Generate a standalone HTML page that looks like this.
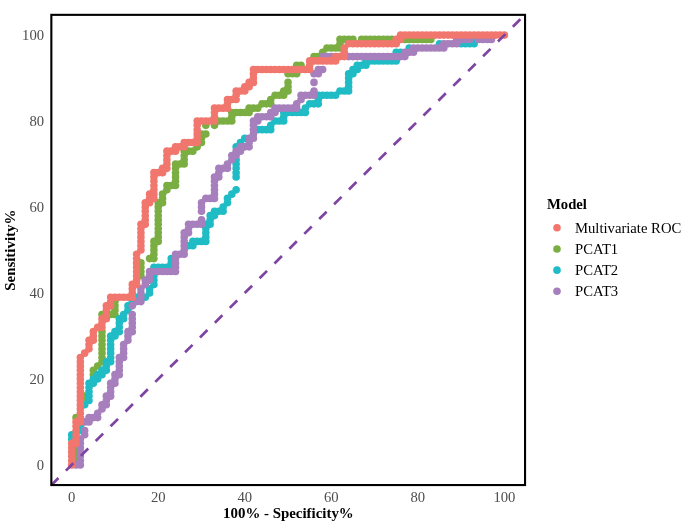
<!DOCTYPE html>
<html><head><meta charset="utf-8"><title>ROC</title>
<style>html,body{margin:0;padding:0;background:#fff}body{width:685px;height:528px;overflow:hidden;font-family:"Liberation Serif",serif}</style></head>
<body>
<svg width="685" height="528" viewBox="0 0 685 528" style="display:block;will-change:transform;opacity:0.999">
<rect width="685" height="528" fill="#fff"/>
<defs><clipPath id="pc"><rect x="50.3" y="13.9" width="475.9" height="472.3"/></clipPath></defs>
<g clip-path="url(#pc)">
<path fill="#7BAE42" d="M72.23 460.60a3.8 3.8 0 1 0 7.6 0a3.8 3.8 0 1 0 -7.6 0M72.23 456.30a3.8 3.8 0 1 0 7.6 0a3.8 3.8 0 1 0 -7.6 0M72.23 452.01a3.8 3.8 0 1 0 7.6 0a3.8 3.8 0 1 0 -7.6 0M72.23 447.71a3.8 3.8 0 1 0 7.6 0a3.8 3.8 0 1 0 -7.6 0M72.23 417.62a3.8 3.8 0 1 0 7.6 0a3.8 3.8 0 1 0 -7.6 0M80.88 400.43a3.8 3.8 0 1 0 7.6 0a3.8 3.8 0 1 0 -7.6 0M80.88 396.13a3.8 3.8 0 1 0 7.6 0a3.8 3.8 0 1 0 -7.6 0M89.54 374.64a3.8 3.8 0 1 0 7.6 0a3.8 3.8 0 1 0 -7.6 0M89.54 370.34a3.8 3.8 0 1 0 7.6 0a3.8 3.8 0 1 0 -7.6 0M93.86 366.05a3.8 3.8 0 1 0 7.6 0a3.8 3.8 0 1 0 -7.6 0M98.19 361.75a3.8 3.8 0 1 0 7.6 0a3.8 3.8 0 1 0 -7.6 0M98.19 357.45a3.8 3.8 0 1 0 7.6 0a3.8 3.8 0 1 0 -7.6 0M98.19 353.15a3.8 3.8 0 1 0 7.6 0a3.8 3.8 0 1 0 -7.6 0M98.19 348.85a3.8 3.8 0 1 0 7.6 0a3.8 3.8 0 1 0 -7.6 0M98.19 344.56a3.8 3.8 0 1 0 7.6 0a3.8 3.8 0 1 0 -7.6 0M98.19 340.26a3.8 3.8 0 1 0 7.6 0a3.8 3.8 0 1 0 -7.6 0M98.19 335.96a3.8 3.8 0 1 0 7.6 0a3.8 3.8 0 1 0 -7.6 0M98.19 331.66a3.8 3.8 0 1 0 7.6 0a3.8 3.8 0 1 0 -7.6 0M98.19 314.47a3.8 3.8 0 1 0 7.6 0a3.8 3.8 0 1 0 -7.6 0M106.84 314.47a3.8 3.8 0 1 0 7.6 0a3.8 3.8 0 1 0 -7.6 0M111.17 314.47a3.8 3.8 0 1 0 7.6 0a3.8 3.8 0 1 0 -7.6 0M111.17 310.17a3.8 3.8 0 1 0 7.6 0a3.8 3.8 0 1 0 -7.6 0M111.17 305.87a3.8 3.8 0 1 0 7.6 0a3.8 3.8 0 1 0 -7.6 0M111.17 301.58a3.8 3.8 0 1 0 7.6 0a3.8 3.8 0 1 0 -7.6 0M137.13 275.79a3.8 3.8 0 1 0 7.6 0a3.8 3.8 0 1 0 -7.6 0M137.13 271.49a3.8 3.8 0 1 0 7.6 0a3.8 3.8 0 1 0 -7.6 0M137.13 267.19a3.8 3.8 0 1 0 7.6 0a3.8 3.8 0 1 0 -7.6 0M137.13 262.89a3.8 3.8 0 1 0 7.6 0a3.8 3.8 0 1 0 -7.6 0M145.79 258.60a3.8 3.8 0 1 0 7.6 0a3.8 3.8 0 1 0 -7.6 0M150.11 258.60a3.8 3.8 0 1 0 7.6 0a3.8 3.8 0 1 0 -7.6 0M150.11 254.30a3.8 3.8 0 1 0 7.6 0a3.8 3.8 0 1 0 -7.6 0M150.11 250.00a3.8 3.8 0 1 0 7.6 0a3.8 3.8 0 1 0 -7.6 0M150.11 245.70a3.8 3.8 0 1 0 7.6 0a3.8 3.8 0 1 0 -7.6 0M150.11 241.40a3.8 3.8 0 1 0 7.6 0a3.8 3.8 0 1 0 -7.6 0M154.44 241.40a3.8 3.8 0 1 0 7.6 0a3.8 3.8 0 1 0 -7.6 0M154.44 237.11a3.8 3.8 0 1 0 7.6 0a3.8 3.8 0 1 0 -7.6 0M154.44 232.81a3.8 3.8 0 1 0 7.6 0a3.8 3.8 0 1 0 -7.6 0M154.44 228.51a3.8 3.8 0 1 0 7.6 0a3.8 3.8 0 1 0 -7.6 0M154.44 224.21a3.8 3.8 0 1 0 7.6 0a3.8 3.8 0 1 0 -7.6 0M154.44 219.91a3.8 3.8 0 1 0 7.6 0a3.8 3.8 0 1 0 -7.6 0M154.44 215.62a3.8 3.8 0 1 0 7.6 0a3.8 3.8 0 1 0 -7.6 0M154.44 211.32a3.8 3.8 0 1 0 7.6 0a3.8 3.8 0 1 0 -7.6 0M154.44 207.02a3.8 3.8 0 1 0 7.6 0a3.8 3.8 0 1 0 -7.6 0M154.44 202.72a3.8 3.8 0 1 0 7.6 0a3.8 3.8 0 1 0 -7.6 0M158.77 202.72a3.8 3.8 0 1 0 7.6 0a3.8 3.8 0 1 0 -7.6 0M158.77 198.42a3.8 3.8 0 1 0 7.6 0a3.8 3.8 0 1 0 -7.6 0M158.77 194.13a3.8 3.8 0 1 0 7.6 0a3.8 3.8 0 1 0 -7.6 0M163.09 189.83a3.8 3.8 0 1 0 7.6 0a3.8 3.8 0 1 0 -7.6 0M163.09 185.53a3.8 3.8 0 1 0 7.6 0a3.8 3.8 0 1 0 -7.6 0M167.42 185.53a3.8 3.8 0 1 0 7.6 0a3.8 3.8 0 1 0 -7.6 0M171.75 185.53a3.8 3.8 0 1 0 7.6 0a3.8 3.8 0 1 0 -7.6 0M171.75 181.23a3.8 3.8 0 1 0 7.6 0a3.8 3.8 0 1 0 -7.6 0M171.75 176.93a3.8 3.8 0 1 0 7.6 0a3.8 3.8 0 1 0 -7.6 0M171.75 172.64a3.8 3.8 0 1 0 7.6 0a3.8 3.8 0 1 0 -7.6 0M171.75 168.34a3.8 3.8 0 1 0 7.6 0a3.8 3.8 0 1 0 -7.6 0M171.75 164.04a3.8 3.8 0 1 0 7.6 0a3.8 3.8 0 1 0 -7.6 0M176.07 164.04a3.8 3.8 0 1 0 7.6 0a3.8 3.8 0 1 0 -7.6 0M180.40 164.04a3.8 3.8 0 1 0 7.6 0a3.8 3.8 0 1 0 -7.6 0M180.40 159.74a3.8 3.8 0 1 0 7.6 0a3.8 3.8 0 1 0 -7.6 0M180.40 155.44a3.8 3.8 0 1 0 7.6 0a3.8 3.8 0 1 0 -7.6 0M180.40 151.15a3.8 3.8 0 1 0 7.6 0a3.8 3.8 0 1 0 -7.6 0M184.73 151.15a3.8 3.8 0 1 0 7.6 0a3.8 3.8 0 1 0 -7.6 0M189.06 151.15a3.8 3.8 0 1 0 7.6 0a3.8 3.8 0 1 0 -7.6 0M193.38 146.85a3.8 3.8 0 1 0 7.6 0a3.8 3.8 0 1 0 -7.6 0M197.71 142.55a3.8 3.8 0 1 0 7.6 0a3.8 3.8 0 1 0 -7.6 0M197.71 138.25a3.8 3.8 0 1 0 7.6 0a3.8 3.8 0 1 0 -7.6 0M197.71 133.95a3.8 3.8 0 1 0 7.6 0a3.8 3.8 0 1 0 -7.6 0M202.04 133.95a3.8 3.8 0 1 0 7.6 0a3.8 3.8 0 1 0 -7.6 0M202.04 125.36a3.8 3.8 0 1 0 7.6 0a3.8 3.8 0 1 0 -7.6 0M210.69 125.36a3.8 3.8 0 1 0 7.6 0a3.8 3.8 0 1 0 -7.6 0M215.02 121.06a3.8 3.8 0 1 0 7.6 0a3.8 3.8 0 1 0 -7.6 0M219.34 121.06a3.8 3.8 0 1 0 7.6 0a3.8 3.8 0 1 0 -7.6 0M223.67 121.06a3.8 3.8 0 1 0 7.6 0a3.8 3.8 0 1 0 -7.6 0M228.00 121.06a3.8 3.8 0 1 0 7.6 0a3.8 3.8 0 1 0 -7.6 0M228.00 116.76a3.8 3.8 0 1 0 7.6 0a3.8 3.8 0 1 0 -7.6 0M228.00 112.46a3.8 3.8 0 1 0 7.6 0a3.8 3.8 0 1 0 -7.6 0M232.33 112.46a3.8 3.8 0 1 0 7.6 0a3.8 3.8 0 1 0 -7.6 0M236.65 112.46a3.8 3.8 0 1 0 7.6 0a3.8 3.8 0 1 0 -7.6 0M240.98 112.46a3.8 3.8 0 1 0 7.6 0a3.8 3.8 0 1 0 -7.6 0M245.31 112.46a3.8 3.8 0 1 0 7.6 0a3.8 3.8 0 1 0 -7.6 0M245.31 108.17a3.8 3.8 0 1 0 7.6 0a3.8 3.8 0 1 0 -7.6 0M249.63 108.17a3.8 3.8 0 1 0 7.6 0a3.8 3.8 0 1 0 -7.6 0M253.96 108.17a3.8 3.8 0 1 0 7.6 0a3.8 3.8 0 1 0 -7.6 0M258.29 103.87a3.8 3.8 0 1 0 7.6 0a3.8 3.8 0 1 0 -7.6 0M262.62 103.87a3.8 3.8 0 1 0 7.6 0a3.8 3.8 0 1 0 -7.6 0M266.94 103.87a3.8 3.8 0 1 0 7.6 0a3.8 3.8 0 1 0 -7.6 0M266.94 99.57a3.8 3.8 0 1 0 7.6 0a3.8 3.8 0 1 0 -7.6 0M271.27 95.27a3.8 3.8 0 1 0 7.6 0a3.8 3.8 0 1 0 -7.6 0M275.60 95.27a3.8 3.8 0 1 0 7.6 0a3.8 3.8 0 1 0 -7.6 0M279.92 95.27a3.8 3.8 0 1 0 7.6 0a3.8 3.8 0 1 0 -7.6 0M279.92 90.97a3.8 3.8 0 1 0 7.6 0a3.8 3.8 0 1 0 -7.6 0M284.25 90.97a3.8 3.8 0 1 0 7.6 0a3.8 3.8 0 1 0 -7.6 0M284.25 86.68a3.8 3.8 0 1 0 7.6 0a3.8 3.8 0 1 0 -7.6 0M284.25 82.38a3.8 3.8 0 1 0 7.6 0a3.8 3.8 0 1 0 -7.6 0M284.25 73.78a3.8 3.8 0 1 0 7.6 0a3.8 3.8 0 1 0 -7.6 0M288.58 73.78a3.8 3.8 0 1 0 7.6 0a3.8 3.8 0 1 0 -7.6 0M292.90 73.78a3.8 3.8 0 1 0 7.6 0a3.8 3.8 0 1 0 -7.6 0M292.90 65.19a3.8 3.8 0 1 0 7.6 0a3.8 3.8 0 1 0 -7.6 0M297.23 65.19a3.8 3.8 0 1 0 7.6 0a3.8 3.8 0 1 0 -7.6 0M310.21 56.59a3.8 3.8 0 1 0 7.6 0a3.8 3.8 0 1 0 -7.6 0M314.54 56.59a3.8 3.8 0 1 0 7.6 0a3.8 3.8 0 1 0 -7.6 0M318.87 52.29a3.8 3.8 0 1 0 7.6 0a3.8 3.8 0 1 0 -7.6 0M323.19 47.99a3.8 3.8 0 1 0 7.6 0a3.8 3.8 0 1 0 -7.6 0M327.52 47.99a3.8 3.8 0 1 0 7.6 0a3.8 3.8 0 1 0 -7.6 0M331.85 47.99a3.8 3.8 0 1 0 7.6 0a3.8 3.8 0 1 0 -7.6 0M336.17 47.99a3.8 3.8 0 1 0 7.6 0a3.8 3.8 0 1 0 -7.6 0M336.17 43.70a3.8 3.8 0 1 0 7.6 0a3.8 3.8 0 1 0 -7.6 0M336.17 39.40a3.8 3.8 0 1 0 7.6 0a3.8 3.8 0 1 0 -7.6 0M340.50 39.40a3.8 3.8 0 1 0 7.6 0a3.8 3.8 0 1 0 -7.6 0M344.83 39.40a3.8 3.8 0 1 0 7.6 0a3.8 3.8 0 1 0 -7.6 0M349.15 39.40a3.8 3.8 0 1 0 7.6 0a3.8 3.8 0 1 0 -7.6 0M357.81 39.40a3.8 3.8 0 1 0 7.6 0a3.8 3.8 0 1 0 -7.6 0M362.14 39.40a3.8 3.8 0 1 0 7.6 0a3.8 3.8 0 1 0 -7.6 0M366.46 39.40a3.8 3.8 0 1 0 7.6 0a3.8 3.8 0 1 0 -7.6 0M370.79 39.40a3.8 3.8 0 1 0 7.6 0a3.8 3.8 0 1 0 -7.6 0M375.12 39.40a3.8 3.8 0 1 0 7.6 0a3.8 3.8 0 1 0 -7.6 0M379.44 39.40a3.8 3.8 0 1 0 7.6 0a3.8 3.8 0 1 0 -7.6 0M383.77 39.40a3.8 3.8 0 1 0 7.6 0a3.8 3.8 0 1 0 -7.6 0M388.10 39.40a3.8 3.8 0 1 0 7.6 0a3.8 3.8 0 1 0 -7.6 0M401.08 39.40a3.8 3.8 0 1 0 7.6 0a3.8 3.8 0 1 0 -7.6 0M405.41 39.40a3.8 3.8 0 1 0 7.6 0a3.8 3.8 0 1 0 -7.6 0M409.73 39.40a3.8 3.8 0 1 0 7.6 0a3.8 3.8 0 1 0 -7.6 0M414.06 39.40a3.8 3.8 0 1 0 7.6 0a3.8 3.8 0 1 0 -7.6 0M418.39 39.40a3.8 3.8 0 1 0 7.6 0a3.8 3.8 0 1 0 -7.6 0M422.71 39.40a3.8 3.8 0 1 0 7.6 0a3.8 3.8 0 1 0 -7.6 0M427.04 39.40a3.8 3.8 0 1 0 7.6 0a3.8 3.8 0 1 0 -7.6 0"/>
<path fill="#1FBCC5" d="M67.90 439.11a3.8 3.8 0 1 0 7.6 0a3.8 3.8 0 1 0 -7.6 0M67.90 434.81a3.8 3.8 0 1 0 7.6 0a3.8 3.8 0 1 0 -7.6 0M76.55 430.52a3.8 3.8 0 1 0 7.6 0a3.8 3.8 0 1 0 -7.6 0M76.55 426.22a3.8 3.8 0 1 0 7.6 0a3.8 3.8 0 1 0 -7.6 0M80.88 404.73a3.8 3.8 0 1 0 7.6 0a3.8 3.8 0 1 0 -7.6 0M85.21 400.43a3.8 3.8 0 1 0 7.6 0a3.8 3.8 0 1 0 -7.6 0M85.21 396.13a3.8 3.8 0 1 0 7.6 0a3.8 3.8 0 1 0 -7.6 0M85.21 391.83a3.8 3.8 0 1 0 7.6 0a3.8 3.8 0 1 0 -7.6 0M85.21 387.54a3.8 3.8 0 1 0 7.6 0a3.8 3.8 0 1 0 -7.6 0M85.21 383.24a3.8 3.8 0 1 0 7.6 0a3.8 3.8 0 1 0 -7.6 0M89.54 383.24a3.8 3.8 0 1 0 7.6 0a3.8 3.8 0 1 0 -7.6 0M89.54 378.94a3.8 3.8 0 1 0 7.6 0a3.8 3.8 0 1 0 -7.6 0M93.86 378.94a3.8 3.8 0 1 0 7.6 0a3.8 3.8 0 1 0 -7.6 0M93.86 374.64a3.8 3.8 0 1 0 7.6 0a3.8 3.8 0 1 0 -7.6 0M98.19 374.64a3.8 3.8 0 1 0 7.6 0a3.8 3.8 0 1 0 -7.6 0M98.19 370.34a3.8 3.8 0 1 0 7.6 0a3.8 3.8 0 1 0 -7.6 0M102.52 370.34a3.8 3.8 0 1 0 7.6 0a3.8 3.8 0 1 0 -7.6 0M102.52 366.05a3.8 3.8 0 1 0 7.6 0a3.8 3.8 0 1 0 -7.6 0M102.52 361.75a3.8 3.8 0 1 0 7.6 0a3.8 3.8 0 1 0 -7.6 0M106.84 361.75a3.8 3.8 0 1 0 7.6 0a3.8 3.8 0 1 0 -7.6 0M106.84 357.45a3.8 3.8 0 1 0 7.6 0a3.8 3.8 0 1 0 -7.6 0M106.84 353.15a3.8 3.8 0 1 0 7.6 0a3.8 3.8 0 1 0 -7.6 0M106.84 348.85a3.8 3.8 0 1 0 7.6 0a3.8 3.8 0 1 0 -7.6 0M106.84 344.56a3.8 3.8 0 1 0 7.6 0a3.8 3.8 0 1 0 -7.6 0M106.84 340.26a3.8 3.8 0 1 0 7.6 0a3.8 3.8 0 1 0 -7.6 0M106.84 335.96a3.8 3.8 0 1 0 7.6 0a3.8 3.8 0 1 0 -7.6 0M111.17 335.96a3.8 3.8 0 1 0 7.6 0a3.8 3.8 0 1 0 -7.6 0M111.17 331.66a3.8 3.8 0 1 0 7.6 0a3.8 3.8 0 1 0 -7.6 0M115.50 331.66a3.8 3.8 0 1 0 7.6 0a3.8 3.8 0 1 0 -7.6 0M115.50 327.36a3.8 3.8 0 1 0 7.6 0a3.8 3.8 0 1 0 -7.6 0M115.50 323.07a3.8 3.8 0 1 0 7.6 0a3.8 3.8 0 1 0 -7.6 0M115.50 318.77a3.8 3.8 0 1 0 7.6 0a3.8 3.8 0 1 0 -7.6 0M119.82 318.77a3.8 3.8 0 1 0 7.6 0a3.8 3.8 0 1 0 -7.6 0M119.82 314.47a3.8 3.8 0 1 0 7.6 0a3.8 3.8 0 1 0 -7.6 0M124.15 310.17a3.8 3.8 0 1 0 7.6 0a3.8 3.8 0 1 0 -7.6 0M124.15 305.87a3.8 3.8 0 1 0 7.6 0a3.8 3.8 0 1 0 -7.6 0M128.48 301.58a3.8 3.8 0 1 0 7.6 0a3.8 3.8 0 1 0 -7.6 0M132.81 297.28a3.8 3.8 0 1 0 7.6 0a3.8 3.8 0 1 0 -7.6 0M141.46 297.28a3.8 3.8 0 1 0 7.6 0a3.8 3.8 0 1 0 -7.6 0M145.79 292.98a3.8 3.8 0 1 0 7.6 0a3.8 3.8 0 1 0 -7.6 0M145.79 288.68a3.8 3.8 0 1 0 7.6 0a3.8 3.8 0 1 0 -7.6 0M150.11 284.38a3.8 3.8 0 1 0 7.6 0a3.8 3.8 0 1 0 -7.6 0M150.11 280.09a3.8 3.8 0 1 0 7.6 0a3.8 3.8 0 1 0 -7.6 0M150.11 275.79a3.8 3.8 0 1 0 7.6 0a3.8 3.8 0 1 0 -7.6 0M150.11 267.19a3.8 3.8 0 1 0 7.6 0a3.8 3.8 0 1 0 -7.6 0M154.44 267.19a3.8 3.8 0 1 0 7.6 0a3.8 3.8 0 1 0 -7.6 0M158.77 267.19a3.8 3.8 0 1 0 7.6 0a3.8 3.8 0 1 0 -7.6 0M163.09 267.19a3.8 3.8 0 1 0 7.6 0a3.8 3.8 0 1 0 -7.6 0M167.42 267.19a3.8 3.8 0 1 0 7.6 0a3.8 3.8 0 1 0 -7.6 0M167.42 262.89a3.8 3.8 0 1 0 7.6 0a3.8 3.8 0 1 0 -7.6 0M167.42 258.60a3.8 3.8 0 1 0 7.6 0a3.8 3.8 0 1 0 -7.6 0M184.73 245.70a3.8 3.8 0 1 0 7.6 0a3.8 3.8 0 1 0 -7.6 0M189.06 245.70a3.8 3.8 0 1 0 7.6 0a3.8 3.8 0 1 0 -7.6 0M189.06 241.40a3.8 3.8 0 1 0 7.6 0a3.8 3.8 0 1 0 -7.6 0M193.38 241.40a3.8 3.8 0 1 0 7.6 0a3.8 3.8 0 1 0 -7.6 0M197.71 241.40a3.8 3.8 0 1 0 7.6 0a3.8 3.8 0 1 0 -7.6 0M202.04 241.40a3.8 3.8 0 1 0 7.6 0a3.8 3.8 0 1 0 -7.6 0M202.04 237.11a3.8 3.8 0 1 0 7.6 0a3.8 3.8 0 1 0 -7.6 0M202.04 232.81a3.8 3.8 0 1 0 7.6 0a3.8 3.8 0 1 0 -7.6 0M202.04 228.51a3.8 3.8 0 1 0 7.6 0a3.8 3.8 0 1 0 -7.6 0M202.04 224.21a3.8 3.8 0 1 0 7.6 0a3.8 3.8 0 1 0 -7.6 0M206.36 224.21a3.8 3.8 0 1 0 7.6 0a3.8 3.8 0 1 0 -7.6 0M206.36 219.91a3.8 3.8 0 1 0 7.6 0a3.8 3.8 0 1 0 -7.6 0M206.36 215.62a3.8 3.8 0 1 0 7.6 0a3.8 3.8 0 1 0 -7.6 0M210.69 215.62a3.8 3.8 0 1 0 7.6 0a3.8 3.8 0 1 0 -7.6 0M210.69 211.32a3.8 3.8 0 1 0 7.6 0a3.8 3.8 0 1 0 -7.6 0M215.02 211.32a3.8 3.8 0 1 0 7.6 0a3.8 3.8 0 1 0 -7.6 0M219.34 211.32a3.8 3.8 0 1 0 7.6 0a3.8 3.8 0 1 0 -7.6 0M219.34 207.02a3.8 3.8 0 1 0 7.6 0a3.8 3.8 0 1 0 -7.6 0M223.67 202.72a3.8 3.8 0 1 0 7.6 0a3.8 3.8 0 1 0 -7.6 0M223.67 198.42a3.8 3.8 0 1 0 7.6 0a3.8 3.8 0 1 0 -7.6 0M228.00 194.13a3.8 3.8 0 1 0 7.6 0a3.8 3.8 0 1 0 -7.6 0M232.33 189.83a3.8 3.8 0 1 0 7.6 0a3.8 3.8 0 1 0 -7.6 0M232.33 176.93a3.8 3.8 0 1 0 7.6 0a3.8 3.8 0 1 0 -7.6 0M232.33 172.64a3.8 3.8 0 1 0 7.6 0a3.8 3.8 0 1 0 -7.6 0M232.33 168.34a3.8 3.8 0 1 0 7.6 0a3.8 3.8 0 1 0 -7.6 0M232.33 164.04a3.8 3.8 0 1 0 7.6 0a3.8 3.8 0 1 0 -7.6 0M232.33 159.74a3.8 3.8 0 1 0 7.6 0a3.8 3.8 0 1 0 -7.6 0M232.33 146.85a3.8 3.8 0 1 0 7.6 0a3.8 3.8 0 1 0 -7.6 0M236.65 142.55a3.8 3.8 0 1 0 7.6 0a3.8 3.8 0 1 0 -7.6 0M240.98 138.25a3.8 3.8 0 1 0 7.6 0a3.8 3.8 0 1 0 -7.6 0M253.96 129.66a3.8 3.8 0 1 0 7.6 0a3.8 3.8 0 1 0 -7.6 0M258.29 129.66a3.8 3.8 0 1 0 7.6 0a3.8 3.8 0 1 0 -7.6 0M262.62 129.66a3.8 3.8 0 1 0 7.6 0a3.8 3.8 0 1 0 -7.6 0M266.94 129.66a3.8 3.8 0 1 0 7.6 0a3.8 3.8 0 1 0 -7.6 0M266.94 125.36a3.8 3.8 0 1 0 7.6 0a3.8 3.8 0 1 0 -7.6 0M271.27 121.06a3.8 3.8 0 1 0 7.6 0a3.8 3.8 0 1 0 -7.6 0M275.60 121.06a3.8 3.8 0 1 0 7.6 0a3.8 3.8 0 1 0 -7.6 0M279.92 121.06a3.8 3.8 0 1 0 7.6 0a3.8 3.8 0 1 0 -7.6 0M279.92 116.76a3.8 3.8 0 1 0 7.6 0a3.8 3.8 0 1 0 -7.6 0M279.92 112.46a3.8 3.8 0 1 0 7.6 0a3.8 3.8 0 1 0 -7.6 0M284.25 112.46a3.8 3.8 0 1 0 7.6 0a3.8 3.8 0 1 0 -7.6 0M288.58 112.46a3.8 3.8 0 1 0 7.6 0a3.8 3.8 0 1 0 -7.6 0M292.90 112.46a3.8 3.8 0 1 0 7.6 0a3.8 3.8 0 1 0 -7.6 0M297.23 112.46a3.8 3.8 0 1 0 7.6 0a3.8 3.8 0 1 0 -7.6 0M301.56 112.46a3.8 3.8 0 1 0 7.6 0a3.8 3.8 0 1 0 -7.6 0M301.56 108.17a3.8 3.8 0 1 0 7.6 0a3.8 3.8 0 1 0 -7.6 0M305.88 103.87a3.8 3.8 0 1 0 7.6 0a3.8 3.8 0 1 0 -7.6 0M310.21 103.87a3.8 3.8 0 1 0 7.6 0a3.8 3.8 0 1 0 -7.6 0M314.54 103.87a3.8 3.8 0 1 0 7.6 0a3.8 3.8 0 1 0 -7.6 0M314.54 99.57a3.8 3.8 0 1 0 7.6 0a3.8 3.8 0 1 0 -7.6 0M314.54 95.27a3.8 3.8 0 1 0 7.6 0a3.8 3.8 0 1 0 -7.6 0M318.87 95.27a3.8 3.8 0 1 0 7.6 0a3.8 3.8 0 1 0 -7.6 0M323.19 95.27a3.8 3.8 0 1 0 7.6 0a3.8 3.8 0 1 0 -7.6 0M327.52 95.27a3.8 3.8 0 1 0 7.6 0a3.8 3.8 0 1 0 -7.6 0M331.85 95.27a3.8 3.8 0 1 0 7.6 0a3.8 3.8 0 1 0 -7.6 0M336.17 90.97a3.8 3.8 0 1 0 7.6 0a3.8 3.8 0 1 0 -7.6 0M340.50 90.97a3.8 3.8 0 1 0 7.6 0a3.8 3.8 0 1 0 -7.6 0M344.83 90.97a3.8 3.8 0 1 0 7.6 0a3.8 3.8 0 1 0 -7.6 0M344.83 86.68a3.8 3.8 0 1 0 7.6 0a3.8 3.8 0 1 0 -7.6 0M344.83 82.38a3.8 3.8 0 1 0 7.6 0a3.8 3.8 0 1 0 -7.6 0M344.83 78.08a3.8 3.8 0 1 0 7.6 0a3.8 3.8 0 1 0 -7.6 0M344.83 73.78a3.8 3.8 0 1 0 7.6 0a3.8 3.8 0 1 0 -7.6 0M349.15 73.78a3.8 3.8 0 1 0 7.6 0a3.8 3.8 0 1 0 -7.6 0M349.15 69.48a3.8 3.8 0 1 0 7.6 0a3.8 3.8 0 1 0 -7.6 0M353.48 69.48a3.8 3.8 0 1 0 7.6 0a3.8 3.8 0 1 0 -7.6 0M353.48 65.19a3.8 3.8 0 1 0 7.6 0a3.8 3.8 0 1 0 -7.6 0M357.81 65.19a3.8 3.8 0 1 0 7.6 0a3.8 3.8 0 1 0 -7.6 0M362.14 65.19a3.8 3.8 0 1 0 7.6 0a3.8 3.8 0 1 0 -7.6 0M362.14 60.89a3.8 3.8 0 1 0 7.6 0a3.8 3.8 0 1 0 -7.6 0M366.46 60.89a3.8 3.8 0 1 0 7.6 0a3.8 3.8 0 1 0 -7.6 0M370.79 60.89a3.8 3.8 0 1 0 7.6 0a3.8 3.8 0 1 0 -7.6 0M375.12 60.89a3.8 3.8 0 1 0 7.6 0a3.8 3.8 0 1 0 -7.6 0M379.44 60.89a3.8 3.8 0 1 0 7.6 0a3.8 3.8 0 1 0 -7.6 0M383.77 60.89a3.8 3.8 0 1 0 7.6 0a3.8 3.8 0 1 0 -7.6 0M388.10 60.89a3.8 3.8 0 1 0 7.6 0a3.8 3.8 0 1 0 -7.6 0M392.42 60.89a3.8 3.8 0 1 0 7.6 0a3.8 3.8 0 1 0 -7.6 0M392.42 52.29a3.8 3.8 0 1 0 7.6 0a3.8 3.8 0 1 0 -7.6 0M396.75 52.29a3.8 3.8 0 1 0 7.6 0a3.8 3.8 0 1 0 -7.6 0M405.41 47.99a3.8 3.8 0 1 0 7.6 0a3.8 3.8 0 1 0 -7.6 0M435.69 43.70a3.8 3.8 0 1 0 7.6 0a3.8 3.8 0 1 0 -7.6 0M457.33 43.70a3.8 3.8 0 1 0 7.6 0a3.8 3.8 0 1 0 -7.6 0M461.66 43.70a3.8 3.8 0 1 0 7.6 0a3.8 3.8 0 1 0 -7.6 0M465.98 43.70a3.8 3.8 0 1 0 7.6 0a3.8 3.8 0 1 0 -7.6 0M470.31 43.70a3.8 3.8 0 1 0 7.6 0a3.8 3.8 0 1 0 -7.6 0M470.31 39.40a3.8 3.8 0 1 0 7.6 0a3.8 3.8 0 1 0 -7.6 0"/>
<path fill="#A67FBC" d="M72.23 464.90a3.8 3.8 0 1 0 7.6 0a3.8 3.8 0 1 0 -7.6 0M76.55 464.90a3.8 3.8 0 1 0 7.6 0a3.8 3.8 0 1 0 -7.6 0M76.55 460.60a3.8 3.8 0 1 0 7.6 0a3.8 3.8 0 1 0 -7.6 0M76.55 456.30a3.8 3.8 0 1 0 7.6 0a3.8 3.8 0 1 0 -7.6 0M76.55 452.01a3.8 3.8 0 1 0 7.6 0a3.8 3.8 0 1 0 -7.6 0M76.55 447.71a3.8 3.8 0 1 0 7.6 0a3.8 3.8 0 1 0 -7.6 0M76.55 443.41a3.8 3.8 0 1 0 7.6 0a3.8 3.8 0 1 0 -7.6 0M76.55 439.11a3.8 3.8 0 1 0 7.6 0a3.8 3.8 0 1 0 -7.6 0M80.88 434.81a3.8 3.8 0 1 0 7.6 0a3.8 3.8 0 1 0 -7.6 0M80.88 430.52a3.8 3.8 0 1 0 7.6 0a3.8 3.8 0 1 0 -7.6 0M80.88 421.92a3.8 3.8 0 1 0 7.6 0a3.8 3.8 0 1 0 -7.6 0M85.21 421.92a3.8 3.8 0 1 0 7.6 0a3.8 3.8 0 1 0 -7.6 0M85.21 417.62a3.8 3.8 0 1 0 7.6 0a3.8 3.8 0 1 0 -7.6 0M89.54 417.62a3.8 3.8 0 1 0 7.6 0a3.8 3.8 0 1 0 -7.6 0M93.86 417.62a3.8 3.8 0 1 0 7.6 0a3.8 3.8 0 1 0 -7.6 0M93.86 413.32a3.8 3.8 0 1 0 7.6 0a3.8 3.8 0 1 0 -7.6 0M98.19 409.03a3.8 3.8 0 1 0 7.6 0a3.8 3.8 0 1 0 -7.6 0M98.19 404.73a3.8 3.8 0 1 0 7.6 0a3.8 3.8 0 1 0 -7.6 0M102.52 404.73a3.8 3.8 0 1 0 7.6 0a3.8 3.8 0 1 0 -7.6 0M102.52 400.43a3.8 3.8 0 1 0 7.6 0a3.8 3.8 0 1 0 -7.6 0M102.52 396.13a3.8 3.8 0 1 0 7.6 0a3.8 3.8 0 1 0 -7.6 0M106.84 396.13a3.8 3.8 0 1 0 7.6 0a3.8 3.8 0 1 0 -7.6 0M106.84 391.83a3.8 3.8 0 1 0 7.6 0a3.8 3.8 0 1 0 -7.6 0M106.84 387.54a3.8 3.8 0 1 0 7.6 0a3.8 3.8 0 1 0 -7.6 0M106.84 383.24a3.8 3.8 0 1 0 7.6 0a3.8 3.8 0 1 0 -7.6 0M111.17 383.24a3.8 3.8 0 1 0 7.6 0a3.8 3.8 0 1 0 -7.6 0M111.17 378.94a3.8 3.8 0 1 0 7.6 0a3.8 3.8 0 1 0 -7.6 0M111.17 374.64a3.8 3.8 0 1 0 7.6 0a3.8 3.8 0 1 0 -7.6 0M115.50 374.64a3.8 3.8 0 1 0 7.6 0a3.8 3.8 0 1 0 -7.6 0M115.50 370.34a3.8 3.8 0 1 0 7.6 0a3.8 3.8 0 1 0 -7.6 0M115.50 366.05a3.8 3.8 0 1 0 7.6 0a3.8 3.8 0 1 0 -7.6 0M115.50 361.75a3.8 3.8 0 1 0 7.6 0a3.8 3.8 0 1 0 -7.6 0M115.50 357.45a3.8 3.8 0 1 0 7.6 0a3.8 3.8 0 1 0 -7.6 0M119.82 357.45a3.8 3.8 0 1 0 7.6 0a3.8 3.8 0 1 0 -7.6 0M119.82 353.15a3.8 3.8 0 1 0 7.6 0a3.8 3.8 0 1 0 -7.6 0M119.82 348.85a3.8 3.8 0 1 0 7.6 0a3.8 3.8 0 1 0 -7.6 0M119.82 344.56a3.8 3.8 0 1 0 7.6 0a3.8 3.8 0 1 0 -7.6 0M124.15 340.26a3.8 3.8 0 1 0 7.6 0a3.8 3.8 0 1 0 -7.6 0M124.15 335.96a3.8 3.8 0 1 0 7.6 0a3.8 3.8 0 1 0 -7.6 0M124.15 331.66a3.8 3.8 0 1 0 7.6 0a3.8 3.8 0 1 0 -7.6 0M128.48 331.66a3.8 3.8 0 1 0 7.6 0a3.8 3.8 0 1 0 -7.6 0M128.48 327.36a3.8 3.8 0 1 0 7.6 0a3.8 3.8 0 1 0 -7.6 0M128.48 323.07a3.8 3.8 0 1 0 7.6 0a3.8 3.8 0 1 0 -7.6 0M128.48 318.77a3.8 3.8 0 1 0 7.6 0a3.8 3.8 0 1 0 -7.6 0M128.48 314.47a3.8 3.8 0 1 0 7.6 0a3.8 3.8 0 1 0 -7.6 0M128.48 305.87a3.8 3.8 0 1 0 7.6 0a3.8 3.8 0 1 0 -7.6 0M132.81 301.58a3.8 3.8 0 1 0 7.6 0a3.8 3.8 0 1 0 -7.6 0M137.13 301.58a3.8 3.8 0 1 0 7.6 0a3.8 3.8 0 1 0 -7.6 0M137.13 297.28a3.8 3.8 0 1 0 7.6 0a3.8 3.8 0 1 0 -7.6 0M137.13 292.98a3.8 3.8 0 1 0 7.6 0a3.8 3.8 0 1 0 -7.6 0M137.13 288.68a3.8 3.8 0 1 0 7.6 0a3.8 3.8 0 1 0 -7.6 0M141.46 284.38a3.8 3.8 0 1 0 7.6 0a3.8 3.8 0 1 0 -7.6 0M141.46 280.09a3.8 3.8 0 1 0 7.6 0a3.8 3.8 0 1 0 -7.6 0M145.79 280.09a3.8 3.8 0 1 0 7.6 0a3.8 3.8 0 1 0 -7.6 0M145.79 275.79a3.8 3.8 0 1 0 7.6 0a3.8 3.8 0 1 0 -7.6 0M145.79 271.49a3.8 3.8 0 1 0 7.6 0a3.8 3.8 0 1 0 -7.6 0M150.11 271.49a3.8 3.8 0 1 0 7.6 0a3.8 3.8 0 1 0 -7.6 0M154.44 271.49a3.8 3.8 0 1 0 7.6 0a3.8 3.8 0 1 0 -7.6 0M158.77 271.49a3.8 3.8 0 1 0 7.6 0a3.8 3.8 0 1 0 -7.6 0M163.09 271.49a3.8 3.8 0 1 0 7.6 0a3.8 3.8 0 1 0 -7.6 0M167.42 271.49a3.8 3.8 0 1 0 7.6 0a3.8 3.8 0 1 0 -7.6 0M171.75 271.49a3.8 3.8 0 1 0 7.6 0a3.8 3.8 0 1 0 -7.6 0M171.75 267.19a3.8 3.8 0 1 0 7.6 0a3.8 3.8 0 1 0 -7.6 0M171.75 262.89a3.8 3.8 0 1 0 7.6 0a3.8 3.8 0 1 0 -7.6 0M171.75 258.60a3.8 3.8 0 1 0 7.6 0a3.8 3.8 0 1 0 -7.6 0M171.75 254.30a3.8 3.8 0 1 0 7.6 0a3.8 3.8 0 1 0 -7.6 0M176.07 254.30a3.8 3.8 0 1 0 7.6 0a3.8 3.8 0 1 0 -7.6 0M180.40 254.30a3.8 3.8 0 1 0 7.6 0a3.8 3.8 0 1 0 -7.6 0M180.40 250.00a3.8 3.8 0 1 0 7.6 0a3.8 3.8 0 1 0 -7.6 0M180.40 245.70a3.8 3.8 0 1 0 7.6 0a3.8 3.8 0 1 0 -7.6 0M180.40 241.40a3.8 3.8 0 1 0 7.6 0a3.8 3.8 0 1 0 -7.6 0M180.40 237.11a3.8 3.8 0 1 0 7.6 0a3.8 3.8 0 1 0 -7.6 0M180.40 232.81a3.8 3.8 0 1 0 7.6 0a3.8 3.8 0 1 0 -7.6 0M184.73 232.81a3.8 3.8 0 1 0 7.6 0a3.8 3.8 0 1 0 -7.6 0M184.73 228.51a3.8 3.8 0 1 0 7.6 0a3.8 3.8 0 1 0 -7.6 0M184.73 224.21a3.8 3.8 0 1 0 7.6 0a3.8 3.8 0 1 0 -7.6 0M189.06 224.21a3.8 3.8 0 1 0 7.6 0a3.8 3.8 0 1 0 -7.6 0M193.38 224.21a3.8 3.8 0 1 0 7.6 0a3.8 3.8 0 1 0 -7.6 0M197.71 224.21a3.8 3.8 0 1 0 7.6 0a3.8 3.8 0 1 0 -7.6 0M197.71 219.91a3.8 3.8 0 1 0 7.6 0a3.8 3.8 0 1 0 -7.6 0M197.71 211.32a3.8 3.8 0 1 0 7.6 0a3.8 3.8 0 1 0 -7.6 0M197.71 207.02a3.8 3.8 0 1 0 7.6 0a3.8 3.8 0 1 0 -7.6 0M197.71 202.72a3.8 3.8 0 1 0 7.6 0a3.8 3.8 0 1 0 -7.6 0M202.04 198.42a3.8 3.8 0 1 0 7.6 0a3.8 3.8 0 1 0 -7.6 0M206.36 198.42a3.8 3.8 0 1 0 7.6 0a3.8 3.8 0 1 0 -7.6 0M210.69 198.42a3.8 3.8 0 1 0 7.6 0a3.8 3.8 0 1 0 -7.6 0M210.69 194.13a3.8 3.8 0 1 0 7.6 0a3.8 3.8 0 1 0 -7.6 0M210.69 189.83a3.8 3.8 0 1 0 7.6 0a3.8 3.8 0 1 0 -7.6 0M210.69 185.53a3.8 3.8 0 1 0 7.6 0a3.8 3.8 0 1 0 -7.6 0M210.69 181.23a3.8 3.8 0 1 0 7.6 0a3.8 3.8 0 1 0 -7.6 0M210.69 176.93a3.8 3.8 0 1 0 7.6 0a3.8 3.8 0 1 0 -7.6 0M215.02 176.93a3.8 3.8 0 1 0 7.6 0a3.8 3.8 0 1 0 -7.6 0M215.02 172.64a3.8 3.8 0 1 0 7.6 0a3.8 3.8 0 1 0 -7.6 0M215.02 168.34a3.8 3.8 0 1 0 7.6 0a3.8 3.8 0 1 0 -7.6 0M219.34 168.34a3.8 3.8 0 1 0 7.6 0a3.8 3.8 0 1 0 -7.6 0M223.67 168.34a3.8 3.8 0 1 0 7.6 0a3.8 3.8 0 1 0 -7.6 0M223.67 164.04a3.8 3.8 0 1 0 7.6 0a3.8 3.8 0 1 0 -7.6 0M228.00 159.74a3.8 3.8 0 1 0 7.6 0a3.8 3.8 0 1 0 -7.6 0M228.00 155.44a3.8 3.8 0 1 0 7.6 0a3.8 3.8 0 1 0 -7.6 0M232.33 155.44a3.8 3.8 0 1 0 7.6 0a3.8 3.8 0 1 0 -7.6 0M232.33 151.15a3.8 3.8 0 1 0 7.6 0a3.8 3.8 0 1 0 -7.6 0M236.65 151.15a3.8 3.8 0 1 0 7.6 0a3.8 3.8 0 1 0 -7.6 0M236.65 146.85a3.8 3.8 0 1 0 7.6 0a3.8 3.8 0 1 0 -7.6 0M240.98 146.85a3.8 3.8 0 1 0 7.6 0a3.8 3.8 0 1 0 -7.6 0M245.31 146.85a3.8 3.8 0 1 0 7.6 0a3.8 3.8 0 1 0 -7.6 0M245.31 142.55a3.8 3.8 0 1 0 7.6 0a3.8 3.8 0 1 0 -7.6 0M245.31 138.25a3.8 3.8 0 1 0 7.6 0a3.8 3.8 0 1 0 -7.6 0M249.63 138.25a3.8 3.8 0 1 0 7.6 0a3.8 3.8 0 1 0 -7.6 0M249.63 133.95a3.8 3.8 0 1 0 7.6 0a3.8 3.8 0 1 0 -7.6 0M249.63 129.66a3.8 3.8 0 1 0 7.6 0a3.8 3.8 0 1 0 -7.6 0M249.63 125.36a3.8 3.8 0 1 0 7.6 0a3.8 3.8 0 1 0 -7.6 0M249.63 121.06a3.8 3.8 0 1 0 7.6 0a3.8 3.8 0 1 0 -7.6 0M253.96 121.06a3.8 3.8 0 1 0 7.6 0a3.8 3.8 0 1 0 -7.6 0M253.96 116.76a3.8 3.8 0 1 0 7.6 0a3.8 3.8 0 1 0 -7.6 0M258.29 116.76a3.8 3.8 0 1 0 7.6 0a3.8 3.8 0 1 0 -7.6 0M262.62 116.76a3.8 3.8 0 1 0 7.6 0a3.8 3.8 0 1 0 -7.6 0M266.94 116.76a3.8 3.8 0 1 0 7.6 0a3.8 3.8 0 1 0 -7.6 0M266.94 112.46a3.8 3.8 0 1 0 7.6 0a3.8 3.8 0 1 0 -7.6 0M271.27 112.46a3.8 3.8 0 1 0 7.6 0a3.8 3.8 0 1 0 -7.6 0M271.27 108.17a3.8 3.8 0 1 0 7.6 0a3.8 3.8 0 1 0 -7.6 0M275.60 108.17a3.8 3.8 0 1 0 7.6 0a3.8 3.8 0 1 0 -7.6 0M279.92 108.17a3.8 3.8 0 1 0 7.6 0a3.8 3.8 0 1 0 -7.6 0M284.25 108.17a3.8 3.8 0 1 0 7.6 0a3.8 3.8 0 1 0 -7.6 0M288.58 108.17a3.8 3.8 0 1 0 7.6 0a3.8 3.8 0 1 0 -7.6 0M292.90 108.17a3.8 3.8 0 1 0 7.6 0a3.8 3.8 0 1 0 -7.6 0M292.90 103.87a3.8 3.8 0 1 0 7.6 0a3.8 3.8 0 1 0 -7.6 0M297.23 99.57a3.8 3.8 0 1 0 7.6 0a3.8 3.8 0 1 0 -7.6 0M297.23 95.27a3.8 3.8 0 1 0 7.6 0a3.8 3.8 0 1 0 -7.6 0M301.56 95.27a3.8 3.8 0 1 0 7.6 0a3.8 3.8 0 1 0 -7.6 0M305.88 95.27a3.8 3.8 0 1 0 7.6 0a3.8 3.8 0 1 0 -7.6 0M310.21 95.27a3.8 3.8 0 1 0 7.6 0a3.8 3.8 0 1 0 -7.6 0M310.21 90.97a3.8 3.8 0 1 0 7.6 0a3.8 3.8 0 1 0 -7.6 0M310.21 82.38a3.8 3.8 0 1 0 7.6 0a3.8 3.8 0 1 0 -7.6 0M310.21 73.78a3.8 3.8 0 1 0 7.6 0a3.8 3.8 0 1 0 -7.6 0M314.54 73.78a3.8 3.8 0 1 0 7.6 0a3.8 3.8 0 1 0 -7.6 0M314.54 69.48a3.8 3.8 0 1 0 7.6 0a3.8 3.8 0 1 0 -7.6 0M318.87 69.48a3.8 3.8 0 1 0 7.6 0a3.8 3.8 0 1 0 -7.6 0M318.87 56.59a3.8 3.8 0 1 0 7.6 0a3.8 3.8 0 1 0 -7.6 0M323.19 56.59a3.8 3.8 0 1 0 7.6 0a3.8 3.8 0 1 0 -7.6 0M327.52 56.59a3.8 3.8 0 1 0 7.6 0a3.8 3.8 0 1 0 -7.6 0M344.83 56.59a3.8 3.8 0 1 0 7.6 0a3.8 3.8 0 1 0 -7.6 0M349.15 56.59a3.8 3.8 0 1 0 7.6 0a3.8 3.8 0 1 0 -7.6 0M353.48 56.59a3.8 3.8 0 1 0 7.6 0a3.8 3.8 0 1 0 -7.6 0M357.81 56.59a3.8 3.8 0 1 0 7.6 0a3.8 3.8 0 1 0 -7.6 0M362.14 56.59a3.8 3.8 0 1 0 7.6 0a3.8 3.8 0 1 0 -7.6 0M366.46 56.59a3.8 3.8 0 1 0 7.6 0a3.8 3.8 0 1 0 -7.6 0M370.79 56.59a3.8 3.8 0 1 0 7.6 0a3.8 3.8 0 1 0 -7.6 0M375.12 56.59a3.8 3.8 0 1 0 7.6 0a3.8 3.8 0 1 0 -7.6 0M379.44 56.59a3.8 3.8 0 1 0 7.6 0a3.8 3.8 0 1 0 -7.6 0M383.77 56.59a3.8 3.8 0 1 0 7.6 0a3.8 3.8 0 1 0 -7.6 0M388.10 56.59a3.8 3.8 0 1 0 7.6 0a3.8 3.8 0 1 0 -7.6 0M392.42 56.59a3.8 3.8 0 1 0 7.6 0a3.8 3.8 0 1 0 -7.6 0M396.75 56.59a3.8 3.8 0 1 0 7.6 0a3.8 3.8 0 1 0 -7.6 0M401.08 56.59a3.8 3.8 0 1 0 7.6 0a3.8 3.8 0 1 0 -7.6 0M401.08 52.29a3.8 3.8 0 1 0 7.6 0a3.8 3.8 0 1 0 -7.6 0M405.41 52.29a3.8 3.8 0 1 0 7.6 0a3.8 3.8 0 1 0 -7.6 0M409.73 52.29a3.8 3.8 0 1 0 7.6 0a3.8 3.8 0 1 0 -7.6 0M409.73 47.99a3.8 3.8 0 1 0 7.6 0a3.8 3.8 0 1 0 -7.6 0M414.06 47.99a3.8 3.8 0 1 0 7.6 0a3.8 3.8 0 1 0 -7.6 0M418.39 47.99a3.8 3.8 0 1 0 7.6 0a3.8 3.8 0 1 0 -7.6 0M422.71 47.99a3.8 3.8 0 1 0 7.6 0a3.8 3.8 0 1 0 -7.6 0M427.04 47.99a3.8 3.8 0 1 0 7.6 0a3.8 3.8 0 1 0 -7.6 0M431.37 47.99a3.8 3.8 0 1 0 7.6 0a3.8 3.8 0 1 0 -7.6 0M435.69 47.99a3.8 3.8 0 1 0 7.6 0a3.8 3.8 0 1 0 -7.6 0M440.02 47.99a3.8 3.8 0 1 0 7.6 0a3.8 3.8 0 1 0 -7.6 0M440.02 43.70a3.8 3.8 0 1 0 7.6 0a3.8 3.8 0 1 0 -7.6 0M444.35 43.70a3.8 3.8 0 1 0 7.6 0a3.8 3.8 0 1 0 -7.6 0M448.68 43.70a3.8 3.8 0 1 0 7.6 0a3.8 3.8 0 1 0 -7.6 0M453.00 43.70a3.8 3.8 0 1 0 7.6 0a3.8 3.8 0 1 0 -7.6 0M453.00 39.40a3.8 3.8 0 1 0 7.6 0a3.8 3.8 0 1 0 -7.6 0M457.33 39.40a3.8 3.8 0 1 0 7.6 0a3.8 3.8 0 1 0 -7.6 0M461.66 39.40a3.8 3.8 0 1 0 7.6 0a3.8 3.8 0 1 0 -7.6 0M465.98 39.40a3.8 3.8 0 1 0 7.6 0a3.8 3.8 0 1 0 -7.6 0M474.64 39.40a3.8 3.8 0 1 0 7.6 0a3.8 3.8 0 1 0 -7.6 0M478.96 39.40a3.8 3.8 0 1 0 7.6 0a3.8 3.8 0 1 0 -7.6 0M483.29 39.40a3.8 3.8 0 1 0 7.6 0a3.8 3.8 0 1 0 -7.6 0M487.62 39.40a3.8 3.8 0 1 0 7.6 0a3.8 3.8 0 1 0 -7.6 0"/>
<path fill="#F1766E" d="M67.90 464.90a3.8 3.8 0 1 0 7.6 0a3.8 3.8 0 1 0 -7.6 0M67.90 460.60a3.8 3.8 0 1 0 7.6 0a3.8 3.8 0 1 0 -7.6 0M67.90 456.30a3.8 3.8 0 1 0 7.6 0a3.8 3.8 0 1 0 -7.6 0M67.90 452.01a3.8 3.8 0 1 0 7.6 0a3.8 3.8 0 1 0 -7.6 0M67.90 447.71a3.8 3.8 0 1 0 7.6 0a3.8 3.8 0 1 0 -7.6 0M67.90 443.41a3.8 3.8 0 1 0 7.6 0a3.8 3.8 0 1 0 -7.6 0M72.23 443.41a3.8 3.8 0 1 0 7.6 0a3.8 3.8 0 1 0 -7.6 0M72.23 439.11a3.8 3.8 0 1 0 7.6 0a3.8 3.8 0 1 0 -7.6 0M72.23 434.81a3.8 3.8 0 1 0 7.6 0a3.8 3.8 0 1 0 -7.6 0M72.23 430.52a3.8 3.8 0 1 0 7.6 0a3.8 3.8 0 1 0 -7.6 0M72.23 426.22a3.8 3.8 0 1 0 7.6 0a3.8 3.8 0 1 0 -7.6 0M72.23 421.92a3.8 3.8 0 1 0 7.6 0a3.8 3.8 0 1 0 -7.6 0M76.55 421.92a3.8 3.8 0 1 0 7.6 0a3.8 3.8 0 1 0 -7.6 0M76.55 417.62a3.8 3.8 0 1 0 7.6 0a3.8 3.8 0 1 0 -7.6 0M76.55 413.32a3.8 3.8 0 1 0 7.6 0a3.8 3.8 0 1 0 -7.6 0M76.55 409.03a3.8 3.8 0 1 0 7.6 0a3.8 3.8 0 1 0 -7.6 0M76.55 404.73a3.8 3.8 0 1 0 7.6 0a3.8 3.8 0 1 0 -7.6 0M76.55 400.43a3.8 3.8 0 1 0 7.6 0a3.8 3.8 0 1 0 -7.6 0M76.55 396.13a3.8 3.8 0 1 0 7.6 0a3.8 3.8 0 1 0 -7.6 0M76.55 391.83a3.8 3.8 0 1 0 7.6 0a3.8 3.8 0 1 0 -7.6 0M76.55 387.54a3.8 3.8 0 1 0 7.6 0a3.8 3.8 0 1 0 -7.6 0M76.55 383.24a3.8 3.8 0 1 0 7.6 0a3.8 3.8 0 1 0 -7.6 0M76.55 378.94a3.8 3.8 0 1 0 7.6 0a3.8 3.8 0 1 0 -7.6 0M76.55 374.64a3.8 3.8 0 1 0 7.6 0a3.8 3.8 0 1 0 -7.6 0M76.55 370.34a3.8 3.8 0 1 0 7.6 0a3.8 3.8 0 1 0 -7.6 0M76.55 366.05a3.8 3.8 0 1 0 7.6 0a3.8 3.8 0 1 0 -7.6 0M76.55 361.75a3.8 3.8 0 1 0 7.6 0a3.8 3.8 0 1 0 -7.6 0M76.55 357.45a3.8 3.8 0 1 0 7.6 0a3.8 3.8 0 1 0 -7.6 0M80.88 353.15a3.8 3.8 0 1 0 7.6 0a3.8 3.8 0 1 0 -7.6 0M85.21 348.85a3.8 3.8 0 1 0 7.6 0a3.8 3.8 0 1 0 -7.6 0M85.21 344.56a3.8 3.8 0 1 0 7.6 0a3.8 3.8 0 1 0 -7.6 0M85.21 340.26a3.8 3.8 0 1 0 7.6 0a3.8 3.8 0 1 0 -7.6 0M89.54 340.26a3.8 3.8 0 1 0 7.6 0a3.8 3.8 0 1 0 -7.6 0M89.54 335.96a3.8 3.8 0 1 0 7.6 0a3.8 3.8 0 1 0 -7.6 0M89.54 331.66a3.8 3.8 0 1 0 7.6 0a3.8 3.8 0 1 0 -7.6 0M93.86 327.36a3.8 3.8 0 1 0 7.6 0a3.8 3.8 0 1 0 -7.6 0M98.19 327.36a3.8 3.8 0 1 0 7.6 0a3.8 3.8 0 1 0 -7.6 0M98.19 323.07a3.8 3.8 0 1 0 7.6 0a3.8 3.8 0 1 0 -7.6 0M98.19 318.77a3.8 3.8 0 1 0 7.6 0a3.8 3.8 0 1 0 -7.6 0M102.52 318.77a3.8 3.8 0 1 0 7.6 0a3.8 3.8 0 1 0 -7.6 0M102.52 314.47a3.8 3.8 0 1 0 7.6 0a3.8 3.8 0 1 0 -7.6 0M102.52 310.17a3.8 3.8 0 1 0 7.6 0a3.8 3.8 0 1 0 -7.6 0M102.52 305.87a3.8 3.8 0 1 0 7.6 0a3.8 3.8 0 1 0 -7.6 0M106.84 305.87a3.8 3.8 0 1 0 7.6 0a3.8 3.8 0 1 0 -7.6 0M106.84 301.58a3.8 3.8 0 1 0 7.6 0a3.8 3.8 0 1 0 -7.6 0M106.84 297.28a3.8 3.8 0 1 0 7.6 0a3.8 3.8 0 1 0 -7.6 0M111.17 297.28a3.8 3.8 0 1 0 7.6 0a3.8 3.8 0 1 0 -7.6 0M115.50 297.28a3.8 3.8 0 1 0 7.6 0a3.8 3.8 0 1 0 -7.6 0M119.82 297.28a3.8 3.8 0 1 0 7.6 0a3.8 3.8 0 1 0 -7.6 0M124.15 297.28a3.8 3.8 0 1 0 7.6 0a3.8 3.8 0 1 0 -7.6 0M128.48 297.28a3.8 3.8 0 1 0 7.6 0a3.8 3.8 0 1 0 -7.6 0M128.48 292.98a3.8 3.8 0 1 0 7.6 0a3.8 3.8 0 1 0 -7.6 0M128.48 288.68a3.8 3.8 0 1 0 7.6 0a3.8 3.8 0 1 0 -7.6 0M128.48 284.38a3.8 3.8 0 1 0 7.6 0a3.8 3.8 0 1 0 -7.6 0M132.81 284.38a3.8 3.8 0 1 0 7.6 0a3.8 3.8 0 1 0 -7.6 0M132.81 280.09a3.8 3.8 0 1 0 7.6 0a3.8 3.8 0 1 0 -7.6 0M132.81 275.79a3.8 3.8 0 1 0 7.6 0a3.8 3.8 0 1 0 -7.6 0M132.81 271.49a3.8 3.8 0 1 0 7.6 0a3.8 3.8 0 1 0 -7.6 0M132.81 267.19a3.8 3.8 0 1 0 7.6 0a3.8 3.8 0 1 0 -7.6 0M132.81 262.89a3.8 3.8 0 1 0 7.6 0a3.8 3.8 0 1 0 -7.6 0M132.81 258.60a3.8 3.8 0 1 0 7.6 0a3.8 3.8 0 1 0 -7.6 0M132.81 254.30a3.8 3.8 0 1 0 7.6 0a3.8 3.8 0 1 0 -7.6 0M137.13 250.00a3.8 3.8 0 1 0 7.6 0a3.8 3.8 0 1 0 -7.6 0M137.13 245.70a3.8 3.8 0 1 0 7.6 0a3.8 3.8 0 1 0 -7.6 0M137.13 241.40a3.8 3.8 0 1 0 7.6 0a3.8 3.8 0 1 0 -7.6 0M137.13 237.11a3.8 3.8 0 1 0 7.6 0a3.8 3.8 0 1 0 -7.6 0M137.13 232.81a3.8 3.8 0 1 0 7.6 0a3.8 3.8 0 1 0 -7.6 0M137.13 228.51a3.8 3.8 0 1 0 7.6 0a3.8 3.8 0 1 0 -7.6 0M137.13 224.21a3.8 3.8 0 1 0 7.6 0a3.8 3.8 0 1 0 -7.6 0M141.46 224.21a3.8 3.8 0 1 0 7.6 0a3.8 3.8 0 1 0 -7.6 0M141.46 219.91a3.8 3.8 0 1 0 7.6 0a3.8 3.8 0 1 0 -7.6 0M141.46 215.62a3.8 3.8 0 1 0 7.6 0a3.8 3.8 0 1 0 -7.6 0M141.46 211.32a3.8 3.8 0 1 0 7.6 0a3.8 3.8 0 1 0 -7.6 0M141.46 207.02a3.8 3.8 0 1 0 7.6 0a3.8 3.8 0 1 0 -7.6 0M141.46 202.72a3.8 3.8 0 1 0 7.6 0a3.8 3.8 0 1 0 -7.6 0M145.79 202.72a3.8 3.8 0 1 0 7.6 0a3.8 3.8 0 1 0 -7.6 0M145.79 198.42a3.8 3.8 0 1 0 7.6 0a3.8 3.8 0 1 0 -7.6 0M145.79 194.13a3.8 3.8 0 1 0 7.6 0a3.8 3.8 0 1 0 -7.6 0M150.11 194.13a3.8 3.8 0 1 0 7.6 0a3.8 3.8 0 1 0 -7.6 0M150.11 198.42a3.8 3.8 0 1 0 7.6 0a3.8 3.8 0 1 0 -7.6 0M150.11 189.83a3.8 3.8 0 1 0 7.6 0a3.8 3.8 0 1 0 -7.6 0M150.11 185.53a3.8 3.8 0 1 0 7.6 0a3.8 3.8 0 1 0 -7.6 0M150.11 181.23a3.8 3.8 0 1 0 7.6 0a3.8 3.8 0 1 0 -7.6 0M150.11 176.93a3.8 3.8 0 1 0 7.6 0a3.8 3.8 0 1 0 -7.6 0M150.11 172.64a3.8 3.8 0 1 0 7.6 0a3.8 3.8 0 1 0 -7.6 0M154.44 172.64a3.8 3.8 0 1 0 7.6 0a3.8 3.8 0 1 0 -7.6 0M158.77 172.64a3.8 3.8 0 1 0 7.6 0a3.8 3.8 0 1 0 -7.6 0M158.77 168.34a3.8 3.8 0 1 0 7.6 0a3.8 3.8 0 1 0 -7.6 0M163.09 168.34a3.8 3.8 0 1 0 7.6 0a3.8 3.8 0 1 0 -7.6 0M163.09 164.04a3.8 3.8 0 1 0 7.6 0a3.8 3.8 0 1 0 -7.6 0M163.09 159.74a3.8 3.8 0 1 0 7.6 0a3.8 3.8 0 1 0 -7.6 0M163.09 155.44a3.8 3.8 0 1 0 7.6 0a3.8 3.8 0 1 0 -7.6 0M163.09 151.15a3.8 3.8 0 1 0 7.6 0a3.8 3.8 0 1 0 -7.6 0M167.42 151.15a3.8 3.8 0 1 0 7.6 0a3.8 3.8 0 1 0 -7.6 0M171.75 151.15a3.8 3.8 0 1 0 7.6 0a3.8 3.8 0 1 0 -7.6 0M171.75 146.85a3.8 3.8 0 1 0 7.6 0a3.8 3.8 0 1 0 -7.6 0M176.07 146.85a3.8 3.8 0 1 0 7.6 0a3.8 3.8 0 1 0 -7.6 0M180.40 146.85a3.8 3.8 0 1 0 7.6 0a3.8 3.8 0 1 0 -7.6 0M180.40 142.55a3.8 3.8 0 1 0 7.6 0a3.8 3.8 0 1 0 -7.6 0M184.73 142.55a3.8 3.8 0 1 0 7.6 0a3.8 3.8 0 1 0 -7.6 0M189.06 142.55a3.8 3.8 0 1 0 7.6 0a3.8 3.8 0 1 0 -7.6 0M193.38 142.55a3.8 3.8 0 1 0 7.6 0a3.8 3.8 0 1 0 -7.6 0M193.38 138.25a3.8 3.8 0 1 0 7.6 0a3.8 3.8 0 1 0 -7.6 0M193.38 133.95a3.8 3.8 0 1 0 7.6 0a3.8 3.8 0 1 0 -7.6 0M193.38 129.66a3.8 3.8 0 1 0 7.6 0a3.8 3.8 0 1 0 -7.6 0M193.38 125.36a3.8 3.8 0 1 0 7.6 0a3.8 3.8 0 1 0 -7.6 0M193.38 121.06a3.8 3.8 0 1 0 7.6 0a3.8 3.8 0 1 0 -7.6 0M197.71 121.06a3.8 3.8 0 1 0 7.6 0a3.8 3.8 0 1 0 -7.6 0M202.04 121.06a3.8 3.8 0 1 0 7.6 0a3.8 3.8 0 1 0 -7.6 0M206.36 121.06a3.8 3.8 0 1 0 7.6 0a3.8 3.8 0 1 0 -7.6 0M210.69 121.06a3.8 3.8 0 1 0 7.6 0a3.8 3.8 0 1 0 -7.6 0M210.69 116.76a3.8 3.8 0 1 0 7.6 0a3.8 3.8 0 1 0 -7.6 0M210.69 112.46a3.8 3.8 0 1 0 7.6 0a3.8 3.8 0 1 0 -7.6 0M210.69 108.17a3.8 3.8 0 1 0 7.6 0a3.8 3.8 0 1 0 -7.6 0M215.02 108.17a3.8 3.8 0 1 0 7.6 0a3.8 3.8 0 1 0 -7.6 0M219.34 108.17a3.8 3.8 0 1 0 7.6 0a3.8 3.8 0 1 0 -7.6 0M223.67 108.17a3.8 3.8 0 1 0 7.6 0a3.8 3.8 0 1 0 -7.6 0M223.67 103.87a3.8 3.8 0 1 0 7.6 0a3.8 3.8 0 1 0 -7.6 0M223.67 99.57a3.8 3.8 0 1 0 7.6 0a3.8 3.8 0 1 0 -7.6 0M228.00 99.57a3.8 3.8 0 1 0 7.6 0a3.8 3.8 0 1 0 -7.6 0M232.33 99.57a3.8 3.8 0 1 0 7.6 0a3.8 3.8 0 1 0 -7.6 0M232.33 95.27a3.8 3.8 0 1 0 7.6 0a3.8 3.8 0 1 0 -7.6 0M232.33 90.97a3.8 3.8 0 1 0 7.6 0a3.8 3.8 0 1 0 -7.6 0M236.65 90.97a3.8 3.8 0 1 0 7.6 0a3.8 3.8 0 1 0 -7.6 0M240.98 90.97a3.8 3.8 0 1 0 7.6 0a3.8 3.8 0 1 0 -7.6 0M240.98 86.68a3.8 3.8 0 1 0 7.6 0a3.8 3.8 0 1 0 -7.6 0M245.31 86.68a3.8 3.8 0 1 0 7.6 0a3.8 3.8 0 1 0 -7.6 0M245.31 82.38a3.8 3.8 0 1 0 7.6 0a3.8 3.8 0 1 0 -7.6 0M249.63 82.38a3.8 3.8 0 1 0 7.6 0a3.8 3.8 0 1 0 -7.6 0M249.63 78.08a3.8 3.8 0 1 0 7.6 0a3.8 3.8 0 1 0 -7.6 0M249.63 73.78a3.8 3.8 0 1 0 7.6 0a3.8 3.8 0 1 0 -7.6 0M249.63 69.48a3.8 3.8 0 1 0 7.6 0a3.8 3.8 0 1 0 -7.6 0M253.96 69.48a3.8 3.8 0 1 0 7.6 0a3.8 3.8 0 1 0 -7.6 0M258.29 69.48a3.8 3.8 0 1 0 7.6 0a3.8 3.8 0 1 0 -7.6 0M262.62 69.48a3.8 3.8 0 1 0 7.6 0a3.8 3.8 0 1 0 -7.6 0M266.94 69.48a3.8 3.8 0 1 0 7.6 0a3.8 3.8 0 1 0 -7.6 0M271.27 69.48a3.8 3.8 0 1 0 7.6 0a3.8 3.8 0 1 0 -7.6 0M275.60 69.48a3.8 3.8 0 1 0 7.6 0a3.8 3.8 0 1 0 -7.6 0M279.92 69.48a3.8 3.8 0 1 0 7.6 0a3.8 3.8 0 1 0 -7.6 0M284.25 69.48a3.8 3.8 0 1 0 7.6 0a3.8 3.8 0 1 0 -7.6 0M288.58 69.48a3.8 3.8 0 1 0 7.6 0a3.8 3.8 0 1 0 -7.6 0M292.90 69.48a3.8 3.8 0 1 0 7.6 0a3.8 3.8 0 1 0 -7.6 0M297.23 69.48a3.8 3.8 0 1 0 7.6 0a3.8 3.8 0 1 0 -7.6 0M301.56 69.48a3.8 3.8 0 1 0 7.6 0a3.8 3.8 0 1 0 -7.6 0M305.88 69.48a3.8 3.8 0 1 0 7.6 0a3.8 3.8 0 1 0 -7.6 0M305.88 65.19a3.8 3.8 0 1 0 7.6 0a3.8 3.8 0 1 0 -7.6 0M305.88 60.89a3.8 3.8 0 1 0 7.6 0a3.8 3.8 0 1 0 -7.6 0M310.21 60.89a3.8 3.8 0 1 0 7.6 0a3.8 3.8 0 1 0 -7.6 0M314.54 60.89a3.8 3.8 0 1 0 7.6 0a3.8 3.8 0 1 0 -7.6 0M318.87 60.89a3.8 3.8 0 1 0 7.6 0a3.8 3.8 0 1 0 -7.6 0M323.19 60.89a3.8 3.8 0 1 0 7.6 0a3.8 3.8 0 1 0 -7.6 0M327.52 60.89a3.8 3.8 0 1 0 7.6 0a3.8 3.8 0 1 0 -7.6 0M331.85 60.89a3.8 3.8 0 1 0 7.6 0a3.8 3.8 0 1 0 -7.6 0M331.85 56.59a3.8 3.8 0 1 0 7.6 0a3.8 3.8 0 1 0 -7.6 0M336.17 56.59a3.8 3.8 0 1 0 7.6 0a3.8 3.8 0 1 0 -7.6 0M340.50 56.59a3.8 3.8 0 1 0 7.6 0a3.8 3.8 0 1 0 -7.6 0M340.50 52.29a3.8 3.8 0 1 0 7.6 0a3.8 3.8 0 1 0 -7.6 0M340.50 47.99a3.8 3.8 0 1 0 7.6 0a3.8 3.8 0 1 0 -7.6 0M344.83 43.70a3.8 3.8 0 1 0 7.6 0a3.8 3.8 0 1 0 -7.6 0M349.15 43.70a3.8 3.8 0 1 0 7.6 0a3.8 3.8 0 1 0 -7.6 0M353.48 43.70a3.8 3.8 0 1 0 7.6 0a3.8 3.8 0 1 0 -7.6 0M357.81 43.70a3.8 3.8 0 1 0 7.6 0a3.8 3.8 0 1 0 -7.6 0M362.14 43.70a3.8 3.8 0 1 0 7.6 0a3.8 3.8 0 1 0 -7.6 0M366.46 43.70a3.8 3.8 0 1 0 7.6 0a3.8 3.8 0 1 0 -7.6 0M370.79 43.70a3.8 3.8 0 1 0 7.6 0a3.8 3.8 0 1 0 -7.6 0M375.12 43.70a3.8 3.8 0 1 0 7.6 0a3.8 3.8 0 1 0 -7.6 0M379.44 43.70a3.8 3.8 0 1 0 7.6 0a3.8 3.8 0 1 0 -7.6 0M383.77 43.70a3.8 3.8 0 1 0 7.6 0a3.8 3.8 0 1 0 -7.6 0M388.10 43.70a3.8 3.8 0 1 0 7.6 0a3.8 3.8 0 1 0 -7.6 0M392.42 43.70a3.8 3.8 0 1 0 7.6 0a3.8 3.8 0 1 0 -7.6 0M392.42 39.40a3.8 3.8 0 1 0 7.6 0a3.8 3.8 0 1 0 -7.6 0M396.75 39.40a3.8 3.8 0 1 0 7.6 0a3.8 3.8 0 1 0 -7.6 0M396.75 35.10a3.8 3.8 0 1 0 7.6 0a3.8 3.8 0 1 0 -7.6 0M401.08 35.10a3.8 3.8 0 1 0 7.6 0a3.8 3.8 0 1 0 -7.6 0M405.41 35.10a3.8 3.8 0 1 0 7.6 0a3.8 3.8 0 1 0 -7.6 0M409.73 35.10a3.8 3.8 0 1 0 7.6 0a3.8 3.8 0 1 0 -7.6 0M414.06 35.10a3.8 3.8 0 1 0 7.6 0a3.8 3.8 0 1 0 -7.6 0M418.39 35.10a3.8 3.8 0 1 0 7.6 0a3.8 3.8 0 1 0 -7.6 0M422.71 35.10a3.8 3.8 0 1 0 7.6 0a3.8 3.8 0 1 0 -7.6 0M427.04 35.10a3.8 3.8 0 1 0 7.6 0a3.8 3.8 0 1 0 -7.6 0M431.37 35.10a3.8 3.8 0 1 0 7.6 0a3.8 3.8 0 1 0 -7.6 0M435.69 35.10a3.8 3.8 0 1 0 7.6 0a3.8 3.8 0 1 0 -7.6 0M440.02 35.10a3.8 3.8 0 1 0 7.6 0a3.8 3.8 0 1 0 -7.6 0M444.35 35.10a3.8 3.8 0 1 0 7.6 0a3.8 3.8 0 1 0 -7.6 0M448.68 35.10a3.8 3.8 0 1 0 7.6 0a3.8 3.8 0 1 0 -7.6 0M453.00 35.10a3.8 3.8 0 1 0 7.6 0a3.8 3.8 0 1 0 -7.6 0M457.33 35.10a3.8 3.8 0 1 0 7.6 0a3.8 3.8 0 1 0 -7.6 0M461.66 35.10a3.8 3.8 0 1 0 7.6 0a3.8 3.8 0 1 0 -7.6 0M465.98 35.10a3.8 3.8 0 1 0 7.6 0a3.8 3.8 0 1 0 -7.6 0M470.31 35.10a3.8 3.8 0 1 0 7.6 0a3.8 3.8 0 1 0 -7.6 0M474.64 35.10a3.8 3.8 0 1 0 7.6 0a3.8 3.8 0 1 0 -7.6 0M478.96 35.10a3.8 3.8 0 1 0 7.6 0a3.8 3.8 0 1 0 -7.6 0M483.29 35.10a3.8 3.8 0 1 0 7.6 0a3.8 3.8 0 1 0 -7.6 0M487.62 35.10a3.8 3.8 0 1 0 7.6 0a3.8 3.8 0 1 0 -7.6 0M491.95 35.10a3.8 3.8 0 1 0 7.6 0a3.8 3.8 0 1 0 -7.6 0M496.27 35.10a3.8 3.8 0 1 0 7.6 0a3.8 3.8 0 1 0 -7.6 0M500.60 35.10a3.8 3.8 0 1 0 7.6 0a3.8 3.8 0 1 0 -7.6 0"/>
<line x1="50.0" y1="486.45" x2="526.0" y2="13.64" stroke="#7D44A2" stroke-width="2.7" stroke-dasharray="10.5 10.5" stroke-dashoffset="-1.4"/>

</g>
<rect x="51.35" y="14.85" width="473.7" height="470.2" fill="none" stroke="#000" stroke-width="2.1"/>
<text font-family="'Liberation Serif', serif" font-size="14.67" fill="#4D4D4D" text-anchor="end" x="44.1" y="470.00">0</text>
<text font-family="'Liberation Serif', serif" font-size="14.67" fill="#4D4D4D" text-anchor="middle" x="71.70" y="502.3">0</text>
<text font-family="'Liberation Serif', serif" font-size="14.67" fill="#4D4D4D" text-anchor="end" x="44.1" y="384.04">20</text>
<text font-family="'Liberation Serif', serif" font-size="14.67" fill="#4D4D4D" text-anchor="middle" x="158.24" y="502.3">20</text>
<text font-family="'Liberation Serif', serif" font-size="14.67" fill="#4D4D4D" text-anchor="end" x="44.1" y="298.08">40</text>
<text font-family="'Liberation Serif', serif" font-size="14.67" fill="#4D4D4D" text-anchor="middle" x="244.78" y="502.3">40</text>
<text font-family="'Liberation Serif', serif" font-size="14.67" fill="#4D4D4D" text-anchor="end" x="44.1" y="212.12">60</text>
<text font-family="'Liberation Serif', serif" font-size="14.67" fill="#4D4D4D" text-anchor="middle" x="331.32" y="502.3">60</text>
<text font-family="'Liberation Serif', serif" font-size="14.67" fill="#4D4D4D" text-anchor="end" x="44.1" y="126.16">80</text>
<text font-family="'Liberation Serif', serif" font-size="14.67" fill="#4D4D4D" text-anchor="middle" x="417.86" y="502.3">80</text>
<text font-family="'Liberation Serif', serif" font-size="14.67" fill="#4D4D4D" text-anchor="end" x="44.1" y="40.20">100</text>
<text font-family="'Liberation Serif', serif" font-size="14.67" fill="#4D4D4D" text-anchor="middle" x="504.40" y="502.3">100</text>
<text font-family="'Liberation Serif', serif" font-size="14.9" font-weight="bold" fill="#000" text-anchor="middle" x="288.4" y="518.4">100% - Specificity%</text>
<text font-family="'Liberation Serif', serif" font-size="14.9" font-weight="bold" fill="#000" text-anchor="middle" transform="translate(15.0 250.2) rotate(-90)">Sensitivity%</text>
<text font-family="'Liberation Serif', serif" font-size="14.67" font-weight="bold" fill="#000" x="547" y="208.6">Model</text>
<circle cx="557" cy="227.80" r="3.8" fill="#F1766E"/>
<text font-family="'Liberation Serif', serif" font-size="14.67" fill="#000" x="575" y="232.60">Multivariate ROC</text>
<circle cx="557" cy="248.97" r="3.8" fill="#7BAE42"/>
<text font-family="'Liberation Serif', serif" font-size="14.67" fill="#000" x="575" y="253.77">PCAT1</text>
<circle cx="557" cy="270.14" r="3.8" fill="#1FBCC5"/>
<text font-family="'Liberation Serif', serif" font-size="14.67" fill="#000" x="575" y="274.94">PCAT2</text>
<circle cx="557" cy="291.31" r="3.8" fill="#A67FBC"/>
<text font-family="'Liberation Serif', serif" font-size="14.67" fill="#000" x="575" y="296.11">PCAT3</text>
</svg>
</body></html>
